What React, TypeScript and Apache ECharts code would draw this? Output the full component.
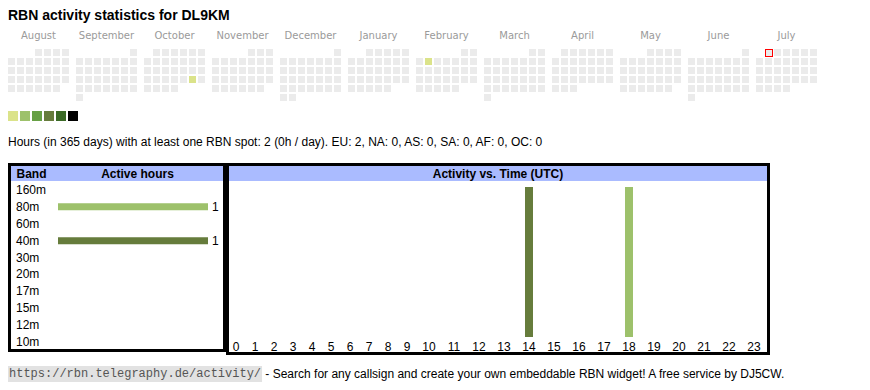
import React, { useEffect, useRef } from 'react';
import * as echarts from 'echarts';

// ---------------- data ----------------
const callsign = 'DL9KM';
const monthNames = ['August', 'September', 'October', 'November', 'December', 'January', 'February', 'March', 'April', 'May', 'June', 'July'];
const monthKeys = ['2024-08', '2024-09', '2024-10', '2024-11', '2024-12', '2025-01', '2025-02', '2025-03', '2025-04', '2025-05', '2025-06', '2025-07'];
const activeDates = ['2024-10-26', '2025-02-04'];
const activeDateHours = [1, 1];
const todayDate = '2025-07-01';
const levelMins = [1, 2, 4, 7, 11, 17];

const bands = ['160m', '80m', '60m', '40m', '30m', '20m', '17m', '15m', '12m', '10m'];
const bandHours = [0, 1, 0, 1, 0, 0, 0, 0, 0, 0];

const hourLabels = [0, 1, 2, 3, 4, 5, 6, 7, 8, 9, 10, 11, 12, 13, 14, 15, 16, 17, 18, 19, 20, 21, 22, 23];
const hours80m = [0, 0, 0, 0, 0, 0, 0, 0, 0, 0, 0, 0, 0, 0, 0, 0, 0, 0, 1, 0, 0, 0, 0, 0];
const hours40m = [0, 0, 0, 0, 0, 0, 0, 0, 0, 0, 0, 0, 0, 0, 1, 0, 0, 0, 0, 0, 0, 0, 0, 0];

const periodDays = 365;
const totalHours = 2;
const continents = ['EU', 'NA', 'AS', 'SA', 'AF', 'OC'];
const continentHours = [2, 0, 0, 0, 0, 0];

const siteUrl = 'https://rbn.telegraphy.de/activity/';
const footerText = ' - Search for any callsign and create your own embeddable RBN widget! A free service by DJ5CW.';

// ---------------- styles ----------------
const SANS = '"Liberation Sans", Arial, sans-serif';
const VERDANA = '"DejaVu Sans", Verdana, sans-serif';
const MONO = '"Liberation Mono", "Courier New", monospace';
const levelColors = ['#dbe38a', '#9dc16b', '#67a045', '#667c3c', '#3b6a26', '#000000'];
const emptyColor = '#ebebeb';
const headerColor = '#aabbff';
const todayColor = '#ff0000';
const bandColors: Record<string, string> = {
  '160m': '#c9d77a', '80m': '#9dc16b', '60m': '#7fae58', '40m': '#667c3c', '30m': '#4f7a33',
  '20m': '#3b6a26', '17m': '#2d5520', '15m': '#23441a', '12m': '#1a3314', '10m': '#10220c',
};

export default function App() {
  const ref = useRef<HTMLDivElement>(null);

  useEffect(() => {
    if (!ref.current) return;
    const chart = echarts.init(ref.current, null, { renderer: 'svg' });

    const CELL = 9;
    const MONTH_PITCH = 68;
    const CAL_LEFT = 7;
    const CAL_TOP = 48;

    // HTML-table-like column widths for hour labels (narrower for 1-digit labels)
    const colWidths = hourLabels.map((h) => (String(h).length === 1 ? 19 : 25));
    const hourCenters: number[] = [];
    let acc = 0;
    colWidths.forEach((w) => {
      hourCenters.push(acc + w / 2);
      acc += w;
    });
    const hourAxisMax = acc;

    const pieces = levelMins.map((mn, i) =>
      i < levelMins.length - 1
        ? { min: mn, max: levelMins[i + 1] - 1, color: levelColors[i] }
        : { min: mn, color: levelColors[i] }
    );

    const calendars = monthKeys.map((k, i) => ({
      orient: 'vertical',
      range: k,
      cellSize: [CELL, CELL],
      left: CAL_LEFT + i * MONTH_PITCH,
      top: CAL_TOP,
      splitLine: { show: false },
      dayLabel: { show: false, firstDay: 1 },
      monthLabel: { show: false },
      yearLabel: { show: false },
      itemStyle: { color: emptyColor, borderColor: '#ffffff', borderWidth: 2 },
    }));

    const daySeries = monthKeys.map((k, i) => ({
      type: 'scatter',
      coordinateSystem: 'calendar',
      calendarIndex: i,
      symbol: 'rect',
      symbolSize: 7,
      silent: true,
      itemStyle: { opacity: 1 },
      data: activeDates
        .map((d, j) => [d, activeDateHours[j]])
        .filter((d) => String(d[0]).startsWith(k)),
    }));

    const todayIdx = monthKeys.findIndex((k) => todayDate.startsWith(k));
    const todayFrame = {
      type: 'scatter',
      coordinateSystem: 'calendar',
      calendarIndex: todayIdx,
      symbol: 'rect',
      symbolSize: 8,
      symbolOffset: [0.5, 0.5],
      silent: true,
      z: 5,
      itemStyle: { color: todayColor, opacity: 1 },
      data: [[todayDate, 0]],
    };
    const todayInner = {
      ...todayFrame,
      symbolSize: 6,
      z: 6,
      itemStyle: { color: emptyColor, opacity: 1 },
    };

    const bandMax = Math.max(1, ...bandHours);
    const hourTotals = hourLabels.map((_, i) => hours80m[i] + hours40m[i]);
    const hourMax = Math.max(1, ...hourTotals);

    const summary =
      `Hours (in ${periodDays} days) with at least one RBN spot: ${totalHours} (${Math.round(totalHours / periodDays)}h / day). ` +
      continents.map((c, i) => `${c}: ${continentHours[i]}`).join(', ');

    const option: any = {
      animation: false,
      calendar: calendars,
      visualMap: {
        type: 'piecewise',
        seriesIndex: daySeries.map((_, i) => i),
        dimension: 1,
        pieces,
        orient: 'horizontal',
        left: 8,
        top: 111,
        padding: 0,
        itemWidth: 10,
        itemHeight: 10,
        itemGap: 2,
        itemSymbol: 'rect',
        showLabel: false,
        selectedMode: false,
        hoverLink: false,
      },
      grid: [
        { left: 4.5, top: 44, width: MONTH_PITCH * 12, height: 1 },
        { left: 58, top: 181.5, width: 150, height: 169 },
        { left: 226.5, top: 187, width: hourAxisMax, height: 150 },
      ],
      xAxis: [
        {
          gridIndex: 0,
          type: 'category',
          position: 'top',
          data: monthNames,
          axisLine: { show: false },
          axisTick: { show: false },
          axisLabel: { interval: 0, color: '#9a9a9a', fontSize: 10, fontFamily: VERDANA, margin: 4 },
        },
        { gridIndex: 1, type: 'value', min: 0, max: bandMax, show: false },
        {
          gridIndex: 2,
          type: 'value',
          min: 0,
          max: hourAxisMax,
          axisLine: { show: false },
          axisTick: { show: false },
          splitLine: { show: false },
          axisLabel: {
            customValues: hourCenters,
            color: '#000',
            fontSize: 12,
            fontFamily: SANS,
            margin: 4,
            formatter: (v: number) => {
              const i = hourCenters.findIndex((c) => Math.abs(c - v) < 0.01);
              return i >= 0 ? String(hourLabels[i]) : '';
            },
          },
        },
      ],
      yAxis: [
        { gridIndex: 0, type: 'value', show: false },
        {
          gridIndex: 1,
          type: 'category',
          inverse: true,
          data: bands,
          axisLine: { show: false },
          axisTick: { show: false },
          axisLabel: { align: 'left', margin: 42, color: '#000', fontSize: 12, fontFamily: SANS },
        },
        { gridIndex: 2, type: 'value', min: 0, max: hourMax, show: false },
      ],
      series: [
        ...daySeries,
        todayFrame,
        todayInner,
        {
          type: 'bar',
          xAxisIndex: 1,
          yAxisIndex: 1,
          barWidth: 7,
          silent: true,
          data: bandHours.map((v, i) => ({ value: v, itemStyle: { color: bandColors[bands[i]] } })),
          label: {
            show: true,
            position: 'right',
            distance: 4,
            color: '#000',
            fontSize: 12,
            fontFamily: SANS,
            formatter: (p: any) => (p.value > 0 ? String(p.value) : ''),
          },
        },
        {
          type: 'bar',
          name: '40m',
          xAxisIndex: 2,
          yAxisIndex: 2,
          stack: 'hours',
          barWidth: 8,
          silent: true,
          itemStyle: { color: bandColors['40m'] },
          data: hourLabels.map((_, i) => [hourCenters[i], hours40m[i]]),
        },
        {
          type: 'bar',
          name: '80m',
          xAxisIndex: 2,
          yAxisIndex: 2,
          stack: 'hours',
          barWidth: 8,
          silent: true,
          itemStyle: { color: bandColors['80m'] },
          data: hourLabels.map((_, i) => [hourCenters[i], hours80m[i]]),
        },
      ],
      graphic: [
        {
          type: 'text', x: 8, y: 15, silent: true,
          style: { text: `RBN activity statistics for ${callsign}`, fontSize: 14, fontWeight: 'bold', fontFamily: SANS, fill: '#000', textVerticalAlign: 'middle' },
        },
        {
          type: 'text', x: 8, y: 142, silent: true,
          style: { text: summary, fontSize: 12, fontFamily: SANS, fill: '#000', textVerticalAlign: 'middle' },
        },
        { type: 'rect', silent: true, shape: { x: 11, y: 166, width: 212, height: 15 }, style: { fill: headerColor } },
        { type: 'rect', silent: true, shape: { x: 229, y: 166, width: 538, height: 15 }, style: { fill: headerColor } },
        {
          type: 'text', x: 16.5, y: 173.5, silent: true,
          style: { text: 'Band', fontSize: 12, fontWeight: 'bold', fontFamily: SANS, fill: '#000', textVerticalAlign: 'middle' },
        },
        {
          type: 'text', x: 137.5, y: 173.5, silent: true,
          style: { text: 'Active hours', fontSize: 12, fontWeight: 'bold', fontFamily: SANS, fill: '#000', textAlign: 'center', textVerticalAlign: 'middle' },
        },
        {
          type: 'text', x: 498, y: 173.5, silent: true,
          style: { text: 'Activity vs. Time (UTC)', fontSize: 12, fontWeight: 'bold', fontFamily: SANS, fill: '#000', textAlign: 'center', textVerticalAlign: 'middle' },
        },
        { type: 'rect', silent: true, shape: { x: 9.5, y: 164.5, width: 215, height: 186 }, style: { fill: 'none', stroke: '#000', lineWidth: 3 } },
        { type: 'rect', silent: true, shape: { x: 227.5, y: 164.5, width: 541, height: 189 }, style: { fill: 'none', stroke: '#000', lineWidth: 3 } },
        {
          type: 'text', x: 8, y: 374, silent: true,
          style: {
            text: `{u|${siteUrl}}{t|${footerText}}`,
            textVerticalAlign: 'middle',
            rich: {
              u: { fontFamily: MONO, fontSize: 12, fill: '#555', backgroundColor: '#e2e2e2', padding: [2, 1, 2, 1] },
              t: { fontFamily: SANS, fontSize: 12, fill: '#000' },
            },
          },
        },
      ],
    };

    chart.setOption(option);
    return () => chart.dispose();
  }, []);

  return <div ref={ref} style={{ position: 'absolute', left: 0, top: 0, width: 870, height: 390 }} />;
}
